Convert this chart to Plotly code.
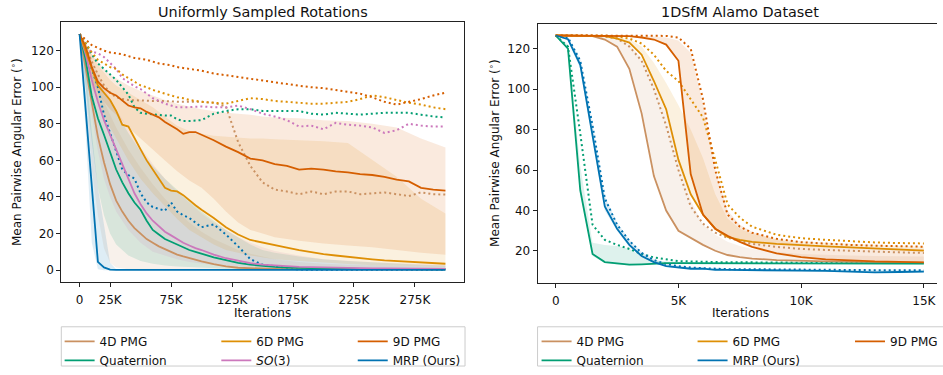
import plotly.graph_objects as go

W, H = 943, 375

# ---------------- Left panel data (x in thousands of iterations) ----------------
L_X = [0, 5, 10, 15, 20, 25, 30, 35, 40, 45, 50, 55, 60, 65, 70, 75, 80, 85, 90, 95, 100,
       110, 120, 130, 140, 150, 160, 170, 180, 190, 200, 210, 220, 230, 240, 250, 260, 270, 280, 290, 300]

L_MRP = [129, 87, 46, 4.5, 1.5, 0.3] + [0.2] * 35
L_MRP_DOT = [129, 121, 110, 100, 85, 75, 64, 55, 52, 50, 42, 37, 34.5, 33.5, 32.5, 37, 32, 30, 28.5, 26, 23.5,
             25, 19.5, 13, 6, 3, 2, 1, 0.3, 0.2, 0.2, 0.2, 0.2, 0.2, 0.2, 0.2, 0.2, 0.2, 0.2, 0.2, 0.2]
L_QUAT = [129, 115, 95, 83, 74, 64, 55, 48, 42, 37, 33, 27, 22, 19.5, 17, 15.5, 14, 12.5, 11, 10, 9,
          7, 5.5, 4, 3, 2.3, 1.8, 1.4, 1.2, 1.0, 0.9, 0.8, 0.75, 0.7, 0.65, 0.6, 0.6, 0.55, 0.5, 0.5, 0.5]
L_QUAT_DOT = [129, 124, 118, 113, 110, 107, 104, 100, 96, 89, 86, 85.5, 85, 84.8, 84.5, 84.5, 82.5, 81.5, 81.5, 81.7, 82,
              85.5, 87, 88, 88, 87, 87, 87, 87, 85.5, 85, 86, 85.5, 85, 85.5, 86, 86, 86, 85, 84, 83.5]
L_SO3 = [129, 118, 104, 92, 82, 74, 66, 57, 49, 42, 36, 31, 27, 24, 21, 19, 17, 15, 13.5, 12, 11,
         8.5, 6.5, 5, 3.8, 3, 2.5, 2, 1.8, 1.6, 1.4, 1.3, 1.2, 1.1, 1, 0.9, 0.9, 0.8, 0.8, 0.7, 0.7]
L_SO3_DOT = [129, 121, 119.5, 118.5, 116.5, 113, 110, 105, 102.5, 100.5, 99, 96.5, 94, 92.5, 91, 90, 89, 89, 89, 89.3, 89.5,
             89, 89, 90, 88, 85.5, 84, 82, 78.5, 79, 77, 80.5, 79.5, 79, 78, 75, 76.5, 80, 79, 78.5, 78.5]
L_4D = [129, 110, 90, 73, 59, 47, 38, 32, 27, 23, 20, 17, 15, 13, 11.5, 10, 8.5, 7.5, 6.5, 5.5, 4.8,
        3.3, 2, 1.3, 1, 0.8, 0.7, 0.6, 0.6, 0.5, 0.5, 0.5, 0.5, 0.5, 0.5, 0.5, 0.5, 0.5, 0.5, 0.5, 0.5]
L_4D_DOT = [129, 122, 114, 107, 101, 97, 94.5, 93.5, 93, 92.8, 92.5, 92.5, 92.5, 92.5, 92.5, 92.3, 92, 92, 92, 92, 92,
            91.5, 89.5, 70, 57, 48, 44, 43, 41.5, 43, 41.5, 43, 43, 41.5, 42, 42.5, 41.5, 40.5, 42.5, 41.5, 41.3]
L_6D = [129, 120, 110, 101, 97, 93, 87, 79.5, 78.5, 72, 66, 60, 55, 50, 45, 43.5, 43, 41, 38, 35.5, 33,
        28.5, 23.5, 19.5, 16.5, 15, 13.5, 12.3, 11, 9.8, 8.8, 8, 7.2, 6.5, 5.9, 5.3, 4.9, 4.5, 4.1, 3.8, 3.5]
L_6D_DOT = [129, 124, 119, 115, 113, 111, 110, 107, 105, 103, 101, 100, 98.5, 97.5, 96.5, 95.5, 94.5, 94, 93, 92.5, 92,
            91.5, 91, 92.5, 94, 93.5, 92.5, 92, 91.5, 91, 91, 91.5, 92, 93.5, 95.5, 94.5, 93, 91.5, 90.5, 89, 88]
L_9D = [129, 122, 111, 103, 99.5, 97, 95.5, 93, 90, 89, 88.5, 86.5, 85, 83.5, 81, 79, 77, 74.5, 75.5, 75.5, 74,
        71, 67.5, 64.5, 61, 60, 58, 57, 55, 55.5, 55, 54, 53.5, 52.5, 52, 51, 49.5, 48.5, 45, 44, 43.5]
L_9D_DOT = [129, 126, 123, 121.5, 120, 119, 118.5, 118, 117, 116, 115.5, 115, 114, 113, 112.5, 112, 111, 110.5, 110, 109.5, 109,
            107.5, 106.5, 105.5, 104.5, 103.5, 102.5, 101.5, 100.8, 100, 99.5, 98.5, 97.5, 96.5, 94.5, 92, 90.5, 92, 93.5, 95.5, 97]

# band grid (thousands)
L_BX = [0, 5, 10, 15, 20, 25, 30, 40, 50, 60, 70, 80, 90, 100, 110, 120, 130, 140, 150, 160, 180, 200, 220, 240, 260, 280, 300]
L_MRP_LO = [129, 75, 15, 0.5] + [0] * 23
L_MRP_HI = [129, 112, 75, 45, 25, 4, 0.5] + [0.3] * 20
L_QUAT_LO = [129, 100, 70, 45, 30, 20, 14, 8, 5, 3.5, 2.5, 2, 1.5, 1.2, 1, 0.8, 0.7, 0.6, 0.5, 0.5, 0.4, 0.4, 0.3, 0.3, 0.3, 0.3, 0.3]
L_QUAT_HI = [129, 124, 112, 105, 98, 92, 86, 75, 65, 57, 50, 44, 38, 32, 27, 22, 18, 14, 11, 9.5, 7.5, 6, 5, 4.2, 3.5, 3, 2.5]
L_SO3_LO = [129, 108, 85, 65, 50, 40, 32, 22, 15, 10, 8, 6, 4.5, 3.5, 2.8, 2.2, 1.8, 1.5, 1.3, 1.1, 0.9, 0.8, 0.7, 0.6, 0.5, 0.5, 0.5]
L_SO3_HI = [129, 125, 115, 108, 100, 94, 88, 77, 67, 58, 50, 43, 37, 31, 26, 22, 18, 15, 12.5, 10.5, 8, 6, 5, 4.3, 3.8, 3.3, 3]
L_4D_LO = [129, 100, 55, 30, 12, 4, 1.5, 0.5, 0.3] + [0.2] * 18
L_4D_HI = [129, 122, 110, 100, 92, 85, 78, 66, 56, 47, 39, 32, 26, 21, 17, 14, 11, 9, 7.5, 6, 4.5, 3.5, 3, 2.5, 2.2, 2, 2]
L_6D_LO = [129, 112, 100, 92, 85, 78, 72, 60, 50, 42, 35, 28, 22, 18, 14, 11, 9.5, 8, 7, 6, 5, 4, 3.3, 2.7, 2.3, 2, 1.8]
L_6D_HI = [129, 124, 118, 112, 108, 104, 101, 97, 93, 89, 84, 79, 76, 74.5, 73.5, 73, 72.5, 72, 72, 71.5, 71, 70.5, 69.5, 60, 51, 39, 31]
L_9D_LO = [129, 118, 104, 97, 92, 88, 85, 78, 72, 66, 60, 54, 49, 45, 39, 32, 26, 22, 20, 18, 16, 14.5, 13.5, 12.5, 11, 9.5, 8.4]
L_9D_HI = [129, 124, 118, 114, 110, 107, 105, 101, 98, 95.5, 93, 91, 89.5, 88, 87, 86, 85.5, 85, 84, 83.5, 83, 82, 81.5, 80, 78, 72, 67]

# ---------------- Right panel data (x in thousands of iterations) ----------------
R_X = [0, 0.5, 1, 1.5, 2, 2.5, 3, 3.5, 4, 4.5, 5, 5.5, 6, 6.5, 7, 7.5, 8, 9, 10, 11, 12, 13, 14, 15]

R_QUAT = [126.5, 120, 50, 18.5, 14.5, 13.8, 13.2, 13.4, 13.8, 14, 14, 14, 14, 14, 14, 14, 14, 14, 14, 14, 13.9, 13.8, 13.8, 13.7]
R_QUAT_DOT = [126.5, 121, 78, 33, 25.5, 23, 21, 18.5, 16.8, 15.8, 15, 14.8, 14.6, 14.5, 14.4, 14.4, 14.3, 14.3, 14.2, 14.2, 14.1, 14.1, 14, 14]
R_QUAT_LO = [126.5, 119.5, 48, 17.5, 14, 13.3, 12.8, 13, 13.4, 13.6, 13.6, 13.6, 13.6, 13.6, 13.6, 13.6, 13.6, 13.6, 13.6, 13.6, 13.5, 13.4, 13.4, 13.3]
R_QUAT_HI = [126.5, 122, 62, 24, 23, 22.5, 21, 17.5, 15.5, 14.8, 14.5, 14.4, 14.4, 14.4, 14.4, 14.4, 14.3, 14.3, 14.3, 14.2, 14.2, 14.1, 14.1, 14]
R_MRP = [126.5, 124.7, 112, 77, 42, 31, 23, 17.5, 14.5, 12.5, 11.8, 11.2, 11.3, 10.7, 10.6, 10.5, 10.4, 10.4, 10.3, 10.2, 9.8, 9.4, 9.6, 9.8]
R_MRP_DOT = [126.5, 125.5, 114, 82, 46, 33, 25, 19, 15.5, 13.5, 12.5, 11.8, 11.5, 11.2, 11, 11, 11, 10.9, 10.8, 10.7, 10.6, 10.4, 10.4, 10.5]
R_MRP_LO = [126.5, 124, 110, 75, 40, 30, 22, 17, 14, 12.2, 11.5, 11, 11, 10.4, 10.3, 10.2, 10.1, 10.1, 10, 9.9, 9.5, 9.1, 9.3, 9.5]
R_MRP_HI = [126.5, 125.5, 115, 83, 47, 34, 25.5, 19.5, 15.8, 13.7, 12.7, 12, 11.7, 11.3, 11.1, 11.1, 11, 11, 10.9, 10.8, 10.7, 10.5, 10.5, 10.6]
R_4D = [126.5, 126.5, 126.5, 126.2, 124.5, 121, 110, 88, 57, 40, 30, 26.5, 23, 20.1, 18, 17, 16.2, 15.5, 15, 14.8, 14.6, 14.4, 14.3, 14.2]
R_4D_DOT = [126.5, 126.5, 126.5, 126.4, 126, 125, 121, 114, 100, 82, 60, 42, 33.5, 29, 26.5, 25, 23.5, 22, 21, 20.5, 20, 19.6, 19.3, 19]
R_4D_LO = [126.5, 126.5, 126.5, 126.2, 124.5, 121, 110, 88, 57, 40, 30, 26.5, 23, 20.1, 18, 17, 16.2, 15.5, 15, 14.8, 14.6, 14.4, 14.3, 14.2]
R_4D_HI = [126.5, 126.5, 126.5, 126.4, 126.2, 125.5, 122, 115, 104, 88, 66, 45, 33, 28, 24.5, 22.5, 21, 19.5, 18.5, 18, 17.8, 17.5, 17.4, 17.3]
R_6D = [126.5, 126.5, 126.5, 126.4, 126.2, 125, 123, 117, 104, 90, 65, 48, 38, 31, 27, 25.5, 24.5, 23.5, 22.8, 22.3, 21.8, 21.2, 20.6, 20.2]
R_6D_DOT = [126.5, 126.5, 126.5, 126.5, 126.5, 126, 125, 122.5, 117, 109, 104, 95, 86, 65, 43, 36.5, 32, 28, 26.3, 25.5, 24.8, 24.2, 23.9, 23.7]
R_6D_LO = [126.5, 126.5, 126.5, 126.4, 126.2, 125, 123, 117, 104, 90, 65, 48, 38, 31, 27, 25.5, 24.5, 23.5, 22.8, 22.3, 21.8, 21.2, 20.6, 20.2]
R_6D_HI = [126.5, 126.5, 126.5, 126.5, 126.4, 126, 124.5, 121, 113, 103, 92, 80, 66, 48, 36, 31, 28.5, 26, 24.8, 24, 23.4, 22.9, 22.5, 22.2]
R_9D = [126.5, 126.5, 126.5, 126.5, 126.5, 126.4, 126.2, 125.5, 124.5, 122, 114, 58, 38, 31, 27.5, 24.5, 22, 18.8, 17, 15.8, 15.2, 14.8, 14.6, 14.4]
R_9D_DOT = [126.5, 126.5, 126.5, 126.5, 126.5, 126.5, 126.5, 126.4, 126.3, 126.3, 125.5, 120, 95, 60, 38, 32, 29, 26, 24.3, 23.5, 23, 22.6, 22.3, 22.1]
R_9D_LO = [126.5, 126.5, 126.5, 126.5, 126.5, 126.4, 126.2, 125.5, 124.5, 122, 114, 58, 38, 31, 27.5, 24.5, 22, 18.8, 17, 15.8, 15.2, 14.8, 14.6, 14.4]
R_9D_HI = [126.5, 126.5, 126.5, 126.5, 126.5, 126.5, 126.5, 126.3, 126, 125.5, 124, 118, 93, 60, 40, 33, 29.5, 25.5, 23.5, 22.5, 22, 21.6, 21.3, 21]

# ---------------- labels / ticks ----------------
LEFT_XTICKS = [0, 25, 75, 125, 175, 225, 275]
LEFT_XTICKTEXT = ["0", "25K", "75K", "125K", "175K", "225K", "275K"]
RIGHT_XTICKS = [0, 5, 10, 15]
RIGHT_XTICKTEXT = ["0", "5K", "10K", "15K"]
LEFT_YTICKS = [0, 20, 40, 60, 80, 100, 120]
RIGHT_YTICKS = [20, 40, 60, 80, 100, 120]

C = {
    "4D": "#ca9161", "6D": "#de8f05", "9D": "#d55e00",
    "QUAT": "#029e73", "SO3": "#cc78bc", "MRP": "#0173b2",
}
NAMES = {"4D": "4D PMG", "6D": "6D PMG", "9D": "9D PMG", "QUAT": "Quaternion",
         "SO3": "<i>SO</i>(3)", "MRP": "MRP (Ours)"}
RANK = {"4D": 1, "QUAT": 2, "6D": 1, "SO3": 2, "9D": 1, "MRP": 2}


def rgba(hexc, a):
    h = hexc.lstrip("#")
    r, g, b = int(h[0:2], 16), int(h[2:4], 16), int(h[4:6], 16)
    return f"rgba({r},{g},{b},{a})"


fig = go.Figure()
FONT = "DejaVu Sans"


def k(xs):
    return [v * 1000 for v in xs]


def add_band(x, lo, hi, col, xa, ya):
    fig.add_trace(go.Scatter(x=k(x) + k(x)[::-1], y=hi + lo[::-1], fill="toself",
                             fillcolor=rgba(col, 0.13), line=dict(width=0), mode="lines",
                             showlegend=False, hoverinfo="skip", xaxis=xa, yaxis=ya))


def add_line(x, y, col, xa, ya, dotted=False, name=None, legend=None, rank=1000):
    fig.add_trace(go.Scatter(
        x=k(x), y=y, mode="lines",
        line=dict(color=col, width=2 if dotted else 1.8, dash="2px,3px" if dotted else "solid"),
        name=name, showlegend=name is not None, legend=legend if legend else "legend",
        legendrank=rank, hoverinfo="skip", xaxis=xa, yaxis=ya))


# left bands
for key, lo, hi in [("4D", L_4D_LO, L_4D_HI), ("QUAT", L_QUAT_LO, L_QUAT_HI), ("SO3", L_SO3_LO, L_SO3_HI),
                    ("6D", L_6D_LO, L_6D_HI), ("9D", L_9D_LO, L_9D_HI), ("MRP", L_MRP_LO, L_MRP_HI)]:
    add_band(L_BX, lo, hi, C[key], "x", "y")
# left dotted
for key, ys in [("4D", L_4D_DOT), ("QUAT", L_QUAT_DOT), ("SO3", L_SO3_DOT), ("6D", L_6D_DOT),
                ("9D", L_9D_DOT), ("MRP", L_MRP_DOT)]:
    add_line(L_X, ys, C[key], "x", "y", dotted=True)
# left solid
left_leg = {"4D": "legend", "QUAT": "legend", "6D": "legend2", "SO3": "legend2", "9D": "legend3", "MRP": "legend3"}
for key, ys in [("4D", L_4D), ("QUAT", L_QUAT), ("SO3", L_SO3), ("6D", L_6D), ("9D", L_9D), ("MRP", L_MRP)]:
    add_line(L_X, ys, C[key], "x", "y", name=NAMES[key], legend=left_leg[key], rank=RANK[key])

# right bands
for key, lo, hi in [("4D", R_4D_LO, R_4D_HI), ("QUAT", R_QUAT_LO, R_QUAT_HI), ("6D", R_6D_LO, R_6D_HI),
                    ("9D", R_9D_LO, R_9D_HI), ("MRP", R_MRP_LO, R_MRP_HI)]:
    add_band(R_X, lo, hi, C[key], "x2", "y2")
for key, ys in [("4D", R_4D_DOT), ("QUAT", R_QUAT_DOT), ("6D", R_6D_DOT), ("9D", R_9D_DOT), ("MRP", R_MRP_DOT)]:
    add_line(R_X, ys, C[key], "x2", "y2", dotted=True)
right_leg = {"4D": "legend4", "QUAT": "legend4", "6D": "legend5", "MRP": "legend5", "9D": "legend6"}
for key, ys in [("4D", R_4D), ("QUAT", R_QUAT), ("6D", R_6D), ("9D", R_9D), ("MRP", R_MRP)]:
    add_line(R_X, ys, C[key], "x2", "y2", name=NAMES[key], legend=right_leg[key], rank=RANK[key])


def px(xp):
    return xp / W


def py(yp):
    return 1 - yp / H


axis_common = dict(showgrid=False, zeroline=False, showline=True, linecolor="#222", linewidth=1,
                   ticks="outside", ticklen=4, tickwidth=1, tickcolor="#222",
                   tickfont=dict(family=FONT, size=12, color="#111"))
x_extra = dict(ticklabelstandoff=3)

LEG_TOP = 333
leg_common = dict(orientation="v", xanchor="left", yanchor="top", bgcolor="rgba(0,0,0,0)",
                  borderwidth=0, font=dict(family=FONT, size=12, color="#111"),
                  tracegroupgap=0, itemwidth=30, y=py(LEG_TOP))

fig.update_layout(
    width=W, height=H, margin=dict(l=0, r=0, t=0, b=0),
    paper_bgcolor="white", plot_bgcolor="white",
    font=dict(family=FONT, size=12, color="#111"),
    xaxis=dict(domain=[px(61.7), px(466.7)], range=[-15000, 315000],
               tickvals=k(LEFT_XTICKS), ticktext=LEFT_XTICKTEXT, mirror=True, anchor="y",
               **axis_common, **x_extra),
    yaxis=dict(domain=[py(287.3), py(22.7)], range=[-6.45, 135.5], tickvals=LEFT_YTICKS,
               mirror=True, anchor="x", **axis_common),
    xaxis2=dict(domain=[px(541), 1.0], range=[-740, 15535],
                tickvals=k(RIGHT_XTICKS), ticktext=RIGHT_XTICKTEXT, mirror=True, anchor="y2",
                **axis_common, **x_extra),
    yaxis2=dict(domain=[py(288.3), py(24)], range=[4.2, 132.4], tickvals=RIGHT_YTICKS,
                mirror=False, anchor="x2", **axis_common),
    legend=dict(x=px(60), **leg_common),
    legend2=dict(x=px(217.7), **leg_common),
    legend3=dict(x=px(355), **leg_common),
    legend4=dict(x=px(540), **leg_common),
    legend5=dict(x=px(697), **leg_common),
    legend6=dict(x=px(855.7), **leg_common),
    showlegend=True,
)

# legend frames
for x0, x1 in [(61.7, 468), (541, 960)]:
    fig.add_shape(type="rect", xref="paper", yref="paper", x0=px(x0), x1=px(x1), y0=py(373), y1=py(333),
                  line=dict(color="#cccccc", width=1), fillcolor="rgba(255,255,255,0.8)", layer="below")

ann = [
    dict(text="Uniformly Sampled Rotations", x=px(264.2), y=py(12), size=14.4),
    dict(text="1DSfM Alamo Dataset", x=px(745), y=py(12), size=14.4),
    dict(text="Iterations", x=px(264.2), y=py(319), size=12),
    dict(text="Iterations", x=px(745), y=py(319), size=12),
]
for a in ann:
    fig.add_annotation(text=a["text"], x=a["x"], y=a["y"], xref="paper", yref="paper",
                       showarrow=False, xanchor="center", yanchor="middle",
                       font=dict(family=FONT, size=a["size"], color="#111"))
for xc, yc in [(16, 155), (497, 156)]:
    fig.add_annotation(text="Mean Pairwise Angular Error (<sup>∘</sup>)", x=px(xc), y=py(yc),
                       xref="paper", yref="paper", showarrow=False, textangle=-90,
                       xanchor="center", yanchor="middle", font=dict(family=FONT, size=12, color="#111"))

fig.write_html("out.html", config={"displayModeBar": False},
               post_script="document.body.style.margin='0';document.body.style.overflow='hidden';")
